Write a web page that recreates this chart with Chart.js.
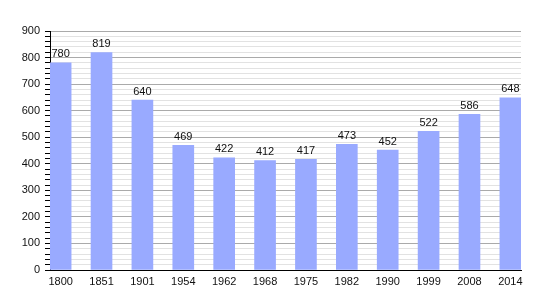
<!DOCTYPE html>
<html>
<head>
<meta charset="utf-8">
<script src="https://cdn.jsdelivr.net/npm/chart.js@4/dist/chart.umd.min.js"></script>
<style>
  html, body { margin: 0; padding: 0; background: #fff; }
  canvas { display: block; }
</style>
</head>
<body>
<canvas id="c" width="550" height="300"></canvas>
<script>
const years = ['1800','1851','1901','1954','1962','1968','1975','1982','1990','1999','2008','2014'];
const population = [780, 819, 640, 469, 422, 412, 417, 473, 452, 522, 586, 648];
const yMin = 0;
const yMax = 900;
const yMinorStep = 20;
const yMajorStep = 100;

const FONT = 'Liberation Sans, Arial, sans-serif';

const valueLabels = {
  id: 'valueLabels',
  afterDatasetsDraw(chart) {
    const ctx = chart.ctx;
    const meta = chart.getDatasetMeta(0);
    ctx.save();
    ctx.font = '11px ' + FONT;
    ctx.fillStyle = '#111';
    ctx.textAlign = 'center';
    ctx.textBaseline = 'bottom';
    meta.data.forEach((el, i) => {
      ctx.fillText(String(population[i]), el.x, el.y - 3);
    });
    ctx.restore();
  }
};

new Chart(document.getElementById('c'), {
  type: 'bar',
  data: {
    datasets: [{
      data: population.map((v, i) => ({ x: i, y: v })),
      backgroundColor: '#99aaff',
      borderWidth: 0,
      barThickness: 21
    }]
  },
  options: {
    responsive: false,
    animation: false,
    devicePixelRatio: 1,
    layout: { padding: { left: 0, right: 29, top: 31, bottom: 0 } },
    plugins: { legend: { display: false }, tooltip: { enabled: false } },
    scales: {
      x: {
        type: 'linear',
        min: -0.26,
        max: years.length - 1 + 0.26,
        offset: false,
        afterBuildTicks: (s) => { s.ticks = years.map((_, i) => ({ value: i })); },
        afterFit: (s) => { s.height = 30; },
        grid: { display: false, drawTicks: false },
        border: { display: true, color: '#000', width: 1 },
        ticks: {
          autoSkip: false,
          maxRotation: 0,
          padding: 5,
          color: '#111',
          font: { family: FONT, size: 11 },
          callback: (v) => years[v]
        }
      },
      y: {
        min: yMin,
        max: yMax,
        afterFit: (s) => { s.width = 50; },
        grid: {
          color: (c) => (c.tick && c.tick.value % yMajorStep === 0) ? '#aaaaaa' : '#e2e2e2',
          tickColor: '#000',
          tickLength: 5,
          lineWidth: 1
        },
        border: { display: true, color: '#000', width: 1 },
        ticks: {
          stepSize: yMinorStep,
          autoSkip: false,
          padding: 5,
          color: '#111',
          font: { family: FONT, size: 11 },
          callback: (v) => (v % yMajorStep === 0 ? v : '')
        }
      }
    }
  },
  plugins: [valueLabels]
});
</script>
</body>
</html>
